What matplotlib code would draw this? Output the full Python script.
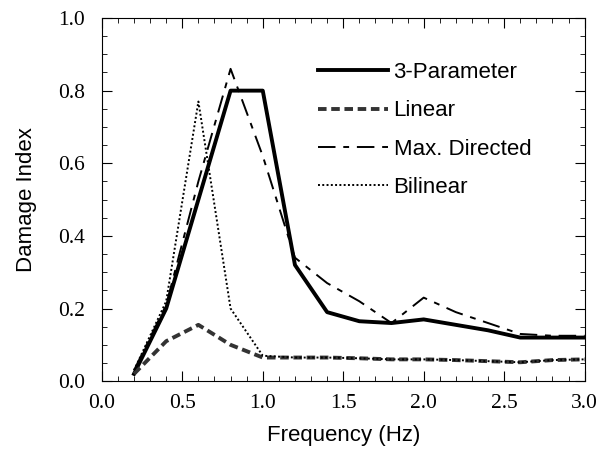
import matplotlib.pyplot as plt
from matplotlib.ticker import MultipleLocator

# frecuencias (Hz) y valores del indice de dano
freq = [0.2, 0.4, 0.6, 0.8, 1.0, 1.2, 1.4, 1.6, 1.8, 2.0, 2.2, 2.4, 2.6, 2.8, 3.0]
three_param = [0.02, 0.20, 0.50, 0.80, 0.80, 0.32, 0.19, 0.165, 0.16, 0.17, 0.155, 0.14, 0.12, 0.12, 0.12]
linear = [0.02, 0.11, 0.155, 0.10, 0.065, 0.065, 0.065, 0.063, 0.06, 0.06, 0.058, 0.055, 0.052, 0.058, 0.06]
max_directed = [0.03, 0.21, 0.55, 0.86, 0.62, 0.34, 0.27, 0.22, 0.16, 0.23, 0.19, 0.16, 0.13, 0.125, 0.125]
bilinear = [0.03, 0.22, 0.77, 0.20, 0.07, 0.065, 0.065, 0.063, 0.06, 0.06, 0.058, 0.055, 0.052, 0.058, 0.06]

xticks = [0.0, 0.5, 1.0, 1.5, 2.0, 2.5, 3.0]
yticks = [0.0, 0.2, 0.4, 0.6, 0.8, 1.0]

fig = plt.figure(figsize=(5.99, 4.5), dpi=100)
ax = fig.add_axes([0.170, 0.153, 0.806, 0.807])

ax.plot(freq, three_param, color='black', lw=2.8, label='3-Parameter')
ax.plot(freq, linear, color='#333333', lw=2.8, ls=(0, (2.2, 1.2)), label='Linear')
ax.plot(freq, max_directed, color='black', lw=1.4, ls=(0, (9, 4, 3, 4)), label='Max. Directed')
ax.plot(freq, bilinear, color='black', lw=1.4, ls=(0, (1, 1.2)), label='Bilinear')

ax.set_xlim(0, 3.0)
ax.set_ylim(0, 1.0)
ax.set_xticks(xticks)
ax.set_yticks(yticks)
ax.xaxis.set_minor_locator(MultipleLocator(0.1))
ax.yaxis.set_minor_locator(MultipleLocator(0.05))
ax.set_xticklabels(['%.1f' % v for v in xticks], family='Liberation Serif', fontsize=15.5)
ax.set_yticklabels(['%.1f' % v for v in yticks], family='Liberation Serif', fontsize=15.5)
ax.tick_params(which='both', direction='in', top=True, right=True)
ax.tick_params(which='major', length=7)
ax.tick_params(which='minor', length=3.5)
ax.tick_params(axis='x', which='major', pad=9)
ax.tick_params(axis='y', which='major', pad=12)

ax.set_xlabel('Frequency (Hz)', family='Liberation Sans', fontsize=16, labelpad=9)
ax.set_ylabel('Damage Index', family='Liberation Sans', fontsize=16, labelpad=15)

ax.legend(loc='upper left', bbox_to_anchor=(318 / 599, 1 - 62 / 450),
          bbox_transform=fig.transFigure, frameon=False, borderpad=0, borderaxespad=0,
          prop={'family': 'Liberation Sans', 'size': 16}, handlelength=3.15,
          handletextpad=0.25, labelspacing=0.78)

fig.savefig('out.png', dpi=100)
